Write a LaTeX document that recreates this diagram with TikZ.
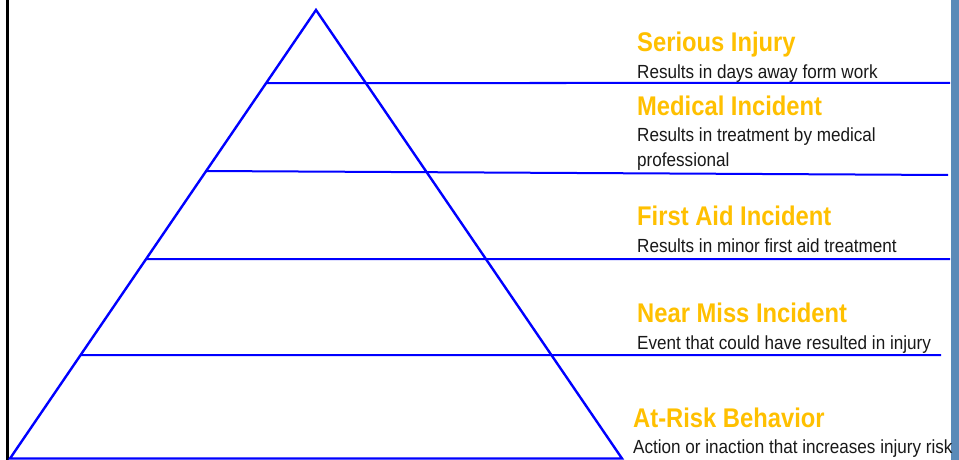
\documentclass[tikz,border=0pt]{standalone}
\usepackage{fontspec}
\setmainfont{Liberation Sans}
\newfontfamily\titlefont[FakeStretch=0.88]{Liberation Sans Bold}
\newfontfamily\descfont[FakeStretch=0.90]{Liberation Sans}
\usetikzlibrary{calc}
\definecolor{gold}{HTML}{FFC000}
\definecolor{barblue}{HTML}{5B8AB8}
\definecolor{lineblue}{HTML}{0000FF}
\tikzset{
  tri/.style={draw=lineblue, line width=2.4pt, line join=miter},
  level/.style={draw=lineblue, line width=2pt},
  title/.style={anchor=base west, inner sep=0pt, text=gold, font=\titlefont\fontsize{27}{30}\selectfont},
  desc/.style={anchor=base west, inner sep=0pt, text=black!90, font=\descfont\fontsize{19}{25}\selectfont},
}
\begin{document}
\begin{tikzpicture}[x=1pt,y=-1pt]
\useasboundingbox (0,0) rectangle (959,460);
\fill[white] (0,0) rectangle (959,460);
% frame pieces
\fill[black] (6,0) rectangle (9,460);
\fill[barblue] (951,0) rectangle (959,460);
% triangle
\coordinate (A) at (316,10);
\coordinate (L) at (10,458.5);
\coordinate (R) at (622,458.5);
\draw[tri] (A) -- (L) -- (R) -- cycle;
% level lines
\coordinate (l1) at ($(A)!73/448.5!(L)$);
\coordinate (l2) at ($(A)!161/448.5!(L)$);
\coordinate (l3) at ($(A)!249/448.5!(L)$);
\coordinate (l4) at ($(A)!345/448.5!(L)$);
\coordinate (r1) at (950,83);
\coordinate (r2) at (948,175);
\coordinate (r3) at (950,259);
\coordinate (r4) at (941,355);
\draw[level] (l1) -- (r1);
\draw[level] (l2) -- (r2);
\draw[level] (l3) -- (r3);
\draw[level] (l4) -- (r4);
% labels
\node[title] (t1) at (637,52) {Serious Injury};
\node[desc]  (d1) at (637,78) {Results in days away form work};
\node[title] (t2) at (637,115) {Medical Incident};
\node[desc]  (d2) at (637,141) {Results in treatment by medical};
\node[desc]  (d2b) at (637,166) {professional};
\node[title] (t3) at (637,225) {First Aid Incident};
\node[desc]  (d3) at (637,252) {Results in minor first aid treatment};
\node[title] (t4) at (637,322) {Near Miss Incident};
\node[desc]  (d4) at (637,349) {Event that could have resulted in injury};
\node[title] (t5) at (633,427) {At-Risk Behavior};
\node[desc]  (d5) at (633,453) {Action or inaction that increases injury risk};
\end{tikzpicture}
\end{document}
